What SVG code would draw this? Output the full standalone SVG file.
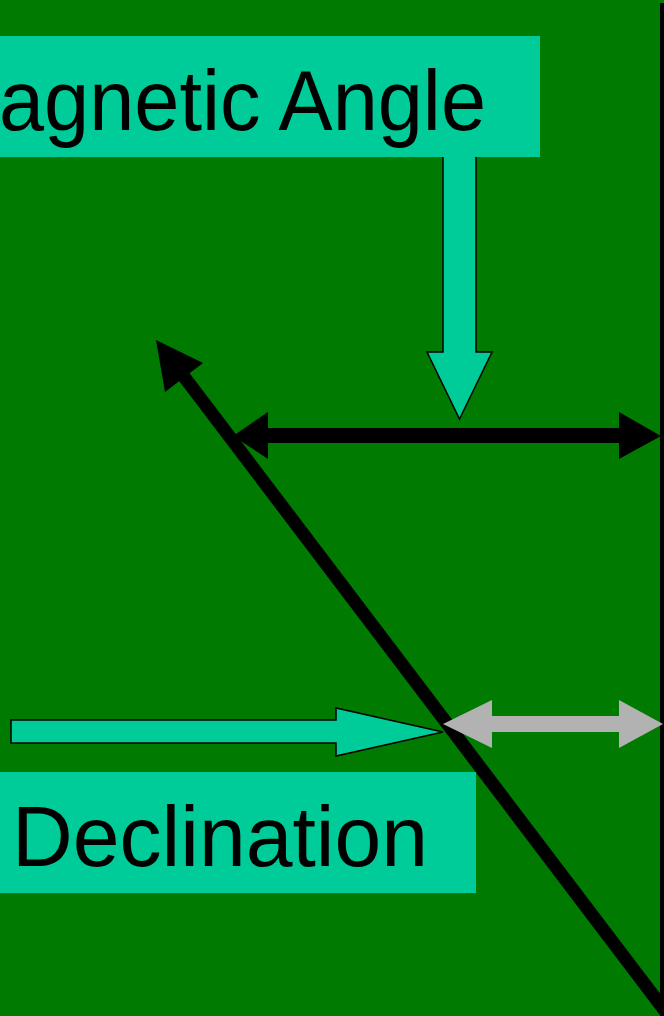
<svg xmlns="http://www.w3.org/2000/svg" width="664" height="1016" viewBox="0 0 664 1016">
  <style>
    .label-box { fill: #00CC99; }
    .label-text { font-family: "Liberation Sans", Arial, sans-serif; font-size: 85px; fill: #000000; }
    .teal-arrow { fill: #00CC99; stroke: #000000; stroke-width: 1.5; stroke-linejoin: miter; }
    .black { fill: #000000; }
    .gray { fill: #B2B2B2; }
  </style>
  <rect x="0" y="0" width="664" height="1016" fill="#007A00"/>

  <g id="connectors">
    <!-- vertical reference line (right edge) -->
    <rect x="660" y="3" width="4" height="1013" class="black"/>
    <!-- diagonal line with arrowhead -->
    <line x1="182" y1="374" x2="684" y2="1036" stroke="#000000" stroke-width="13"/>
    <polygon class="black" points="156,340 203,363 165,392"/>
    <!-- black double arrow -->
    <polygon class="black" points="233,436 268,412 268,428 619,428 619,412 661,436 619,459 619,443 268,443 268,459"/>
    <!-- gray double arrow -->
    <polygon class="gray" points="443,724 492,700 492,716 619,716 619,700 663,724 619,748 619,732 492,732 492,748"/>
    <!-- teal pointer into declination -->
    <polygon class="teal-arrow" points="11,720 336,720 336,708 443,732 336,756 336,743 11,743"/>
    <!-- teal pointer down from magnetic angle -->
    <polygon class="teal-arrow" points="443,150 476,150 476,352 492,352 459.5,419 427,352 443,352"/>
  </g>

  <g id="magnetic-angle-label">
    <rect class="label-box" x="0" y="36" width="540" height="121"/>
    <text class="label-text" x="-1" y="130" textLength="487" lengthAdjust="spacingAndGlyphs">agnetic Angle</text>
  </g>

  <g id="declination-label">
    <rect class="label-box" x="0" y="772" width="476" height="121"/>
    <text class="label-text" x="12" y="866" textLength="416" lengthAdjust="spacingAndGlyphs">Declination</text>
  </g>
</svg>
